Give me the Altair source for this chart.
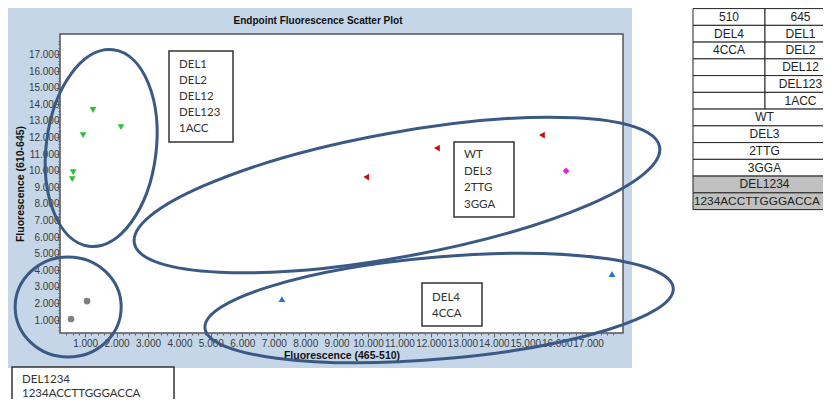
import altair as alt
import pandas as pd

TITLE = "Endpoint Fluorescence Scatter Plot"
X_TITLE = "Fluorescence (465-510)"
Y_TITLE = "Fluorescence (610-645)"

# ---- scatter data (x = 465-510 fluorescence, y = 610-645 fluorescence) ----
g645_x = [1250, 935, 2140, 620, 590]
g645_y = [13650, 12140, 12620, 9900, 9490]
both_x = [9940, 12190, 15530]
both_y = [9610, 11360, 12140]
both2_x = [16300]
both2_y = [9980]
g510_x = [7260, 17760]
g510_y = [2260, 3770]
none_x = [1060, 550]
none_y = [2140, 1060]

# ---- annotation texts ----
box1 = ["DEL1", "DEL2", "DEL12", "DEL123", "1ACC"]
box2 = ["WT", "DEL3", "2TTG", "3GGA"]
box3 = ["DEL4", "4CCA"]
box4 = ["DEL1234", "1234ACCTTGGGACCA"]

tab_head = ["510", "645"]
tab_510 = ["DEL4", "4CCA"]
tab_645 = ["DEL1", "DEL2", "DEL12", "DEL123", "1ACC"]
tab_both = ["WT", "DEL3", "2TTG", "3GGA"]
tab_none = ["DEL1234", "1234ACCTTGGGACCA"]

x_ticks = list(range(400, 17801, 200))
y_ticks = list(range(400, 17801, 200))

# ---------------------------------------------------------------------------
PX, PY = 60, 34          # page position of the plot origin
W, H = 563, 299


def rx(p):
    return p - PX


def ry(p):
    return p - PY


pts = pd.DataFrame({
    "x": g645_x + both_x + both2_x + g510_x + none_x,
    "y": g645_y + both_y + both2_y + g510_y + none_y,
    "g": (["645"] * len(g645_x) + ["both"] * len(both_x) + ["both2"] * len(both2_x)
          + ["510"] * len(g510_x) + ["none"] * len(none_x)),
})

grp = ["645", "both", "both2", "510", "none"]
shapes = ["triangle-down", "triangle-left", "diamond", "triangle-up", "circle"]
colors = ["#2bbf3c", "#c81010", "#e41ee4", "#1f78d0", "#808080"]

LBL = "datum.value % 1000 === 0 ? replace(format(datum.value, ','), ',', '.') : ''"
tick_cond = {"condition": {"test": "datum.value % 1000 === 0", "value": 4}, "value": 2}

common_axis = dict(
    labelExpr=LBL, labelOverlap=False, labelFlush=False, grid=False, domain=False,
    tickSize=tick_cond, tickColor="#666", tickWidth=1,
    labelFont="Liberation Sans", labelFontSize=10, labelColor="#3a3a3a",
    titleFont="Liberation Sans", titleFontSize=10.5, titleFontWeight="bold",
    titleColor="#111", zindex=0,
)

XENC = alt.X("x:Q", scale=alt.Scale(domain=[200, 18110], nice=False, zero=False),
             axis=alt.Axis(values=x_ticks, labelPadding=1, titlePadding=2, title=X_TITLE, **common_axis))
YENC = alt.Y("y:Q", scale=alt.Scale(domain=[217, 18230], nice=False, zero=False),
             axis=alt.Axis(values=y_ticks, labelPadding=-3, titlePadding=3, title=Y_TITLE, **common_axis))

scatter = alt.Chart(pts).mark_point(filled=True, opacity=1, size=45).encode(
    x=XENC, y=YENC,
    shape=alt.Shape("g:N", scale=alt.Scale(domain=grp, range=shapes), legend=None),
    color=alt.Color("g:N", scale=alt.Scale(domain=grp, range=colors), legend=None),
)

# ---- white areas outside the blue panel ----
overlay = pd.DataFrame([
    dict(px=rx(632), px2=780, py=-40, py2=380),
    dict(px=-70, px2=780, py=ry(368), py2=380),
    dict(px=-70, px2=rx(4), py=-40, py2=380),
    dict(px=-70, px2=780, py=-40, py2=ry(3)),
])


def rect_layer(df, **kw):
    return alt.Chart(df).mark_rect(**kw).encode(
        x=alt.X("px:Q", scale=None), x2="px2:Q",
        y=alt.Y("py:Q", scale=None), y2="py2:Q",
    )


white = rect_layer(overlay, fill="white", stroke=None)

# ---- text boxes ----
boxes = pd.DataFrame([
    dict(px=rx(169), px2=rx(233), py=ry(51), py2=ry(142)),
    dict(px=rx(454), px2=rx(514), py=ry(142), py2=ry(217)),
    dict(px=rx(422), px2=rx(482), py=ry(283), py2=ry(326)),
    dict(px=rx(12), px2=rx(174), py=ry(367), py2=420),
])
box_rects = rect_layer(boxes, fill="white", stroke="#333", strokeWidth=1.5)

box_txt = []
for lines, x0, y0, lh in [(box1, 179, 65, 16), (box2, 464, 155, 16.6),
                          (box3, 432, 298, 15.5), (box4, 22, 380, 14)]:
    for i, t in enumerate(lines):
        box_txt.append(dict(px=rx(x0), py=ry(y0 + i * lh), t=t))
box_text = alt.Chart(pd.DataFrame(box_txt)).mark_text(
    align="left", baseline="middle", font="Lato", fontSize=11.5, color="#333"
).encode(x=alt.X("px:Q", scale=None), y=alt.Y("py:Q", scale=None), text="t:N")

# ---- table ----
TL, TM, TR = rx(693), rx(765), rx(836)
TT, RH = ry(8.6), 16.75
cells, ctext, ltext = [], [], []
left_col = [tab_head[0]] + tab_510 + [""] * (len(tab_645) - len(tab_510))
right_col = [tab_head[1]] + tab_645
for i, (a, b) in enumerate(zip(left_col, right_col)):
    y0 = TT + i * RH
    cells.append(dict(px=TL, px2=TM, py=y0, py2=y0 + RH, f="white"))
    cells.append(dict(px=TM, px2=TR, py=y0, py2=y0 + RH, f="white"))
    ctext.append(dict(px=(TL + TM) / 2, py=y0 + RH / 2, t=a))
    ctext.append(dict(px=(TM + TR) / 2, py=y0 + RH / 2, t=b))
n0 = len(left_col)
for j, t in enumerate(tab_both + tab_none):
    y0 = TT + (n0 + j) * RH
    cells.append(dict(px=TL, px2=TR, py=y0, py2=y0 + RH,
                      f="#c0c0c0" if t in tab_none else "white"))
    if len(t) > 12:   # overflowing cell text starts at the cell's left edge
        ltext.append(dict(px=TL + 1, py=y0 + RH / 2, t=t))
    else:
        ctext.append(dict(px=(TL + TR) / 2, py=y0 + RH / 2, t=t))

table_rects = alt.Chart(pd.DataFrame(cells)).mark_rect(stroke="#222", strokeWidth=1).encode(
    x=alt.X("px:Q", scale=None), x2="px2:Q",
    y=alt.Y("py:Q", scale=None), y2="py2:Q",
    color=alt.Color("f:N", scale=None),
)
table_text = alt.Chart(pd.DataFrame(ctext)).mark_text(
    align="center", baseline="middle", font="Liberation Sans", fontSize=12, color="#222"
).encode(x=alt.X("px:Q", scale=None), y=alt.Y("py:Q", scale=None), text="t:N")
table_ltext = alt.Chart(pd.DataFrame(ltext)).mark_text(
    align="left", baseline="middle", font="Liberation Sans", fontSize=11.8, color="#222"
).encode(x=alt.X("px:Q", scale=None), y=alt.Y("py:Q", scale=None), text="t:N")

# ---- ellipses (centre in data units, semi-axes in px, rotation in deg) ----
ellipses = [
    (1510, 11360, 99, 55, 97),
    (10920, 8530, 267, 62, 349.6),
    (460, 1780, 53, 50, 0),
    (12260, 1720, 235, 51, 355.1),
]
ell_layers = []
for cx, cy, a, b, ang in ellipses:
    r = b / a
    path = f"M-1,0A1,{r:.4f},0,1,1,1,0A1,{r:.4f},0,1,1,-1,0Z"
    ell_layers.append(
        alt.Chart(pd.DataFrame({"x": [cx], "y": [cy]})).mark_point(
            shape=path, size=(2 * a) ** 2, angle=ang, filled=False,
            stroke="#3a5985", strokeWidth=3, opacity=1,
        ).encode(x=XENC, y=YENC)
    )

title = alt.Chart(pd.DataFrame({"t": [TITLE]})).mark_text(
    font="Liberation Sans", fontSize=10, fontWeight="bold", color="#111",
    align="center", baseline="middle",
).encode(text="t:N", x=alt.value(rx(318)), y=alt.value(ry(21)))

chart = alt.layer(
    white, box_rects, table_rects, table_text, table_ltext, box_text, scatter, *ell_layers, title
).properties(
    width=W, height=H,
    padding={"left": PX - 8, "top": PY - 8, "right": 815 - (PX - 8) - W, "bottom": 391 - (PY - 8) - H},
    autosize=alt.AutoSizeParams(type="none"),
    background="#c4d6e8",
).configure_view(stroke="#555", strokeWidth=1.5, fill="white")

chart.save("out.html", embed_options={"renderer": "svg", "actions": False})
